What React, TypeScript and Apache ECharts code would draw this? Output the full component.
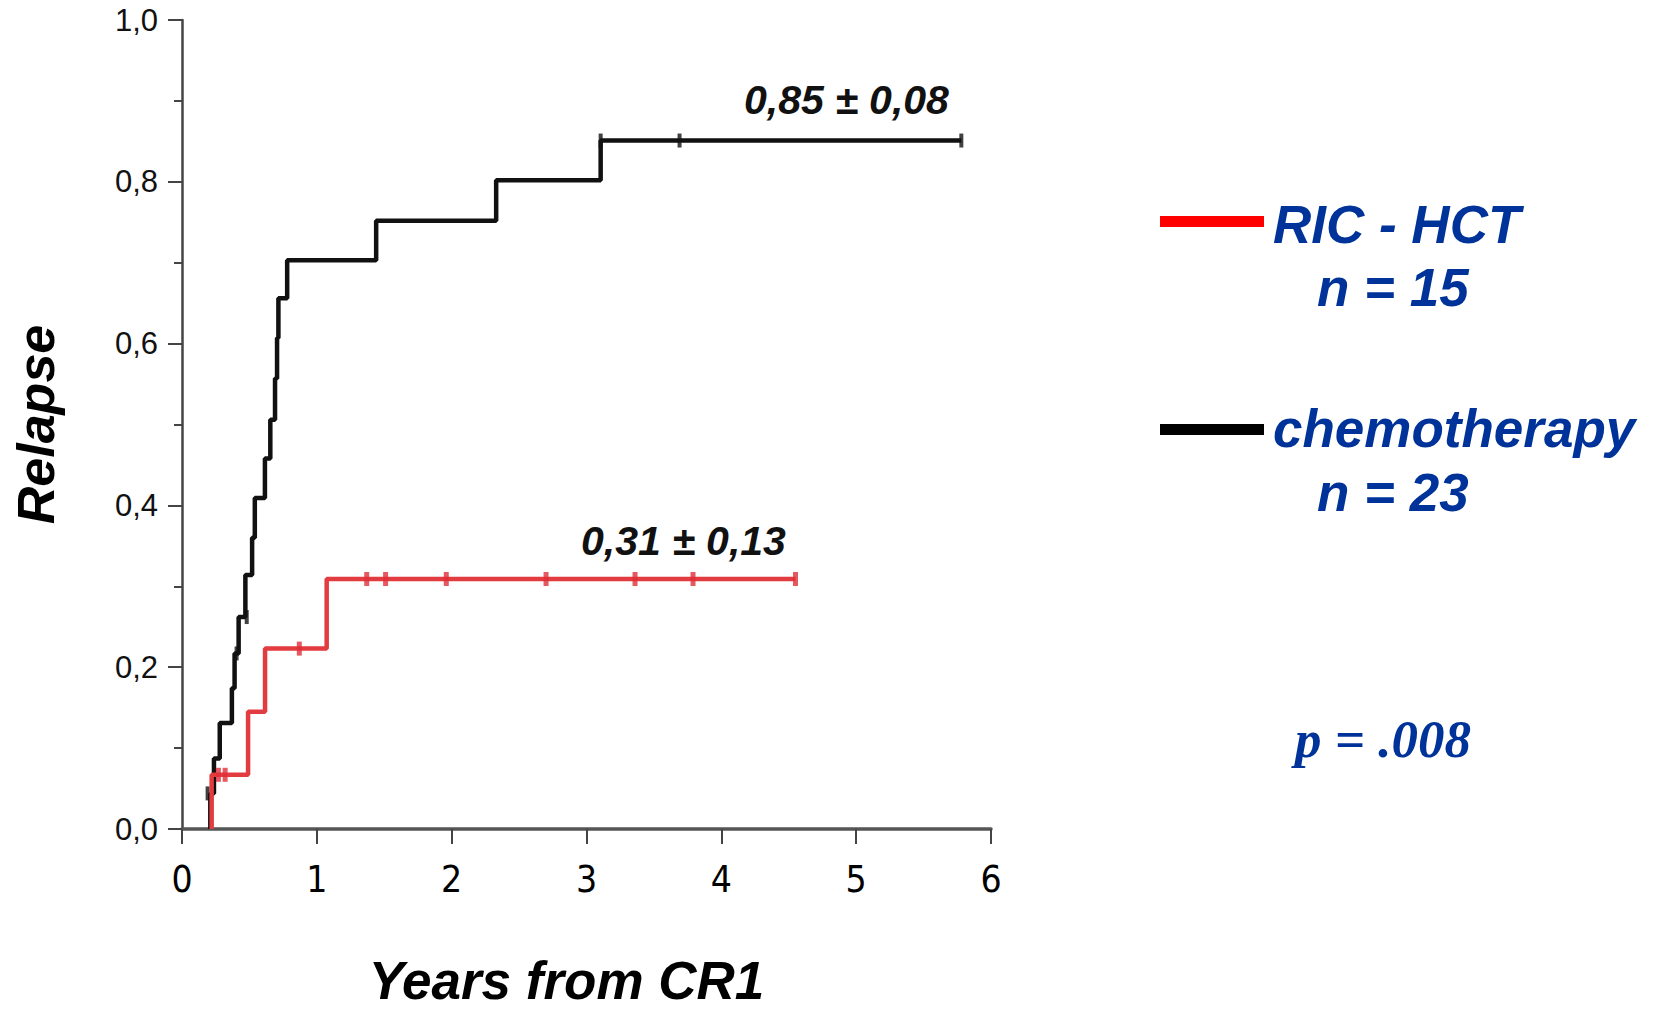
import React, { useEffect, useRef } from "react";
import * as echarts from "echarts";

// Step curves (time in years, cumulative relapse level after each event)
const chemoTimes = [0.21, 0.21, 0.237, 0.28, 0.37, 0.39, 0.42, 0.47, 0.52, 0.54, 0.615, 0.655, 0.69, 0.705, 0.715, 0.78, 1.44, 2.33, 3.105, 5.78];
const chemoLevels = [0, 0.044, 0.087, 0.131, 0.174, 0.217, 0.262, 0.314, 0.36, 0.409, 0.458, 0.506, 0.557, 0.607, 0.656, 0.703, 0.752, 0.802, 0.851, 0.851];
const chemoCensorTimes = [0.19, 0.405, 0.48, 3.105, 3.69, 5.78];
const chemoCensorLevels = [0.044, 0.217, 0.262, 0.851, 0.851, 0.851];

const ricTimes = [0.22, 0.22, 0.49, 0.616, 1.073, 4.55];
const ricLevels = [0, 0.067, 0.145, 0.223, 0.309, 0.309];
const ricCensorTimes = [0.27, 0.32, 0.87, 1.37, 1.51, 1.96, 2.7, 3.36, 3.79, 4.55];
const ricCensorLevels = [0.067, 0.067, 0.223, 0.309, 0.309, 0.309, 0.309, 0.309, 0.309, 0.309];

const seriesNames = ["RIC - HCT", "chemotherapy"];
const seriesCounts = ["n = 15", "n = 23"];
const finalEstimates = ["0,31 \u00B1 0,13", "0,85 \u00B1 0,08"];
const pValueText = "p = .008";
const xAxisTitle = "Years from CR1";
const yAxisTitle = "Relapse";

const zip = (a: number[], b: number[]) => a.map((v, i) => [v, b[i]]);

const BLUE = "#003399";
const RED_LINE = "#e23b40";
const SANS = '"Liberation Sans", Arial, Helvetica, sans-serif';
const NARROW = '"Liberation Sans Narrow", "DejaVu Sans Condensed", "Liberation Sans", Arial, sans-serif';

export default function App() {
  const ref = useRef<HTMLDivElement>(null);
  useEffect(() => {
    if (!ref.current) return;
    const chart = echarts.init(ref.current, null, { renderer: "svg" });
    const textStyle = (size: number, color: string, family = SANS) => ({
      fontSize: size,
      fontWeight: "bold",
      fontStyle: "italic",
      fontFamily: family,
      fill: color,
      align: "left",
      verticalAlign: "middle",
    });
    chart.setOption({
      animation: false,
      backgroundColor: "#ffffff",
      grid: {
        left: 182,
        top: 20,
        width: 809,
        height: 809,
        containLabel: false,
        outerBoundsMode: "none",
      },
      xAxis: {
        type: "value",
        min: 0,
        max: 6,
        interval: 1,
        name: xAxisTitle,
        nameLocation: "middle",
        nameGap: 130,
        nameTextStyle: {
          fontSize: 53,
          lineHeight: 42,
          fontWeight: "bold",
          fontStyle: "italic",
          fontFamily: SANS,
          color: "#000",
          padding: [0, 40, 0, 0],
        },
        axisLine: { show: true, onZero: false, lineStyle: { color: "#555", width: 3.5 } },
        axisTick: { show: true, inside: false, length: 15, lineStyle: { color: "#444", width: 2 } },
        axisLabel: { margin: 32, fontSize: 37, fontFamily: NARROW, color: "#000" },
        splitLine: { show: false },
      },
      yAxis: {
        type: "value",
        min: 0,
        max: 1,
        interval: 0.2,
        name: yAxisTitle,
        nameLocation: "middle",
        nameRotate: 90,
        nameGap: 120,
        nameTextStyle: {
          fontSize: 52,
          fontWeight: "bold",
          fontStyle: "italic",
          fontFamily: SANS,
          color: "#000",
        },
        axisLine: { show: true, lineStyle: { color: "#444", width: 2.5 } },
        axisTick: { show: true, inside: false, length: 14, lineStyle: { color: "#444", width: 2 } },
        minorTick: { show: true, splitNumber: 2, length: 8, lineStyle: { color: "#444", width: 2 } },
        axisLabel: {
          margin: 24,
          fontSize: 31,
          fontFamily: SANS,
          color: "#111",
          formatter: (v: number) => v.toFixed(1).replace(".", ","),
        },
        splitLine: { show: false },
      },
      series: [
        {
          name: seriesNames[1],
          type: "line",
          step: "end",
          data: zip(chemoTimes, chemoLevels),
          showSymbol: false,
          lineStyle: { color: "#111", width: 4.5 },
          itemStyle: { color: "#111" },
          z: 2,
        },
        {
          name: seriesNames[1] + " censored",
          type: "scatter",
          data: zip(chemoCensorTimes, chemoCensorLevels),
          symbol: "rect",
          symbolSize: [4, 14],
          itemStyle: { color: "#111" },
          z: 3,
        },
        {
          name: seriesNames[0],
          type: "line",
          step: "end",
          data: zip(ricTimes, ricLevels),
          showSymbol: false,
          lineStyle: { color: RED_LINE, width: 4.5 },
          itemStyle: { color: RED_LINE },
          z: 4,
        },
        {
          name: seriesNames[0] + " censored",
          type: "scatter",
          data: zip(ricCensorTimes, ricCensorLevels),
          symbol: "rect",
          symbolSize: [5, 14],
          itemStyle: { color: "#e0303a" },
          z: 5,
        },
      ],
      graphic: [
        { type: "text", x: 744, y: 100, style: { text: finalEstimates[1], ...textStyle(41, "#111") } },
        { type: "text", x: 581, y: 541, style: { text: finalEstimates[0], ...textStyle(41, "#111") } },
        { type: "rect", shape: { x: 1160, y: 216, width: 104, height: 11 }, style: { fill: "#ff0000" } },
        { type: "text", x: 1273, y: 224, style: { text: seriesNames[0], ...textStyle(53, BLUE) } },
        { type: "text", x: 1317, y: 287, style: { text: seriesCounts[0], ...textStyle(53, BLUE) } },
        { type: "rect", shape: { x: 1160, y: 424, width: 104, height: 11 }, style: { fill: "#000000" } },
        { type: "text", x: 1273, y: 428, style: { text: seriesNames[1], ...textStyle(53, BLUE) } },
        { type: "text", x: 1317, y: 492, style: { text: seriesCounts[1], ...textStyle(53, BLUE) } },
        {
          type: "text",
          x: 1295,
          y: 739,
          style: { text: pValueText, ...textStyle(53, BLUE, '"Liberation Serif", "Times New Roman", serif') },
        },
      ],
    });
    return () => chart.dispose();
  }, []);
  return (
    <div
      ref={ref}
      style={{ position: "fixed", left: 0, top: 0, width: 1653, height: 1009, background: "#fff" }}
    />
  );
}
